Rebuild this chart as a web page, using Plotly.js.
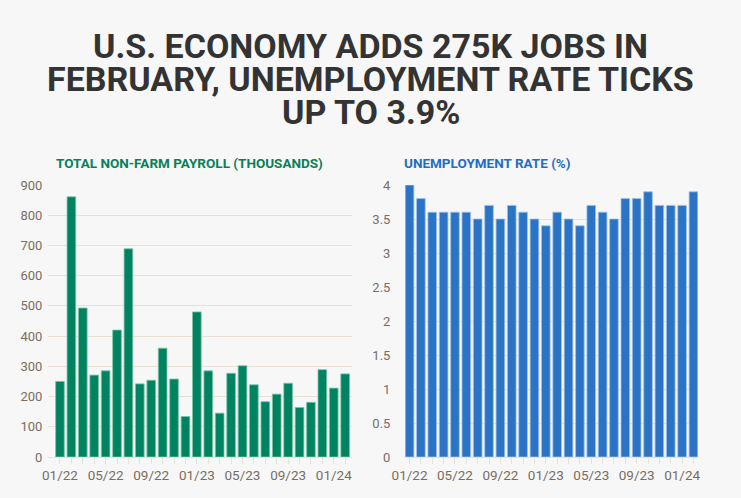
<!DOCTYPE html>
<html>
<head>
<meta charset="utf-8">
<script src="https://cdn.plot.ly/plotly-3.0.1.min.js"></script>
<style>
  html, body { margin: 0; padding: 0; background: #f7f7f7; }
  #chart { width: 741px; height: 498px; }
</style>
</head>
<body>
<div id="chart"></div>
<script>
// months shown on both panels, 01/22 .. 02/24
const months = [
    '01/22', '02/22', '03/22', '04/22', '05/22', '06/22', '07/22', '08/22', '09/22', '10/22', '11/22', '12/22',
    '01/23', '02/23', '03/23', '04/23', '05/23', '06/23', '07/23', '08/23', '09/23', '10/23', '11/23', '12/23',
    '01/24', '02/24'
];

// total non-farm payroll change, thousands
const payrolls = [
    250, 861, 493, 271, 285, 420, 689, 242, 254, 360, 258, 134,
    480, 285, 145, 277, 302, 239, 183, 208, 244, 164, 181, 289,
    228, 275
];

// unemployment rate, percent
const unemployment = [
    4.0, 3.8, 3.6, 3.6, 3.6, 3.6, 3.5, 3.7, 3.5, 3.7, 3.6, 3.5,
    3.4, 3.6, 3.5, 3.4, 3.7, 3.6, 3.5, 3.8, 3.8, 3.9, 3.7, 3.7,
    3.7, 3.9
];

const labeledMonths = ['01/22', '05/22', '09/22', '01/23', '05/23', '09/23', '01/24'];
const tickText = months.map(m => labeledMonths.includes(m) ? m : '');

const W = 741, H = 498;
const font = 'Roboto, "Liberation Sans", Arial, sans-serif';
const tickColor = '#7a6d62';
const gridColor = '#e7e2d3';

let traces = [
    {
        x: months,
        y: payrolls,
        type: 'bar',
        xaxis: 'x',
        yaxis: 'y',
        marker: {color: '#008361', line: {color: '#7cc3a6', width: 0.8}},
        hoverinfo: 'x+y'
    },
    {
        x: months,
        y: unemployment,
        type: 'bar',
        xaxis: 'x2',
        yaxis: 'y2',
        marker: {color: '#2b73c4', line: {color: '#9cc0e8', width: 0.8}},
        hoverinfo: 'x+y'
    }
];

function xAxis(domain, range) {
    return {
        domain: domain,
        type: 'category',
        range: range,
        tickvals: months,
        ticktext: tickText,
        ticks: 'outside',
        ticklen: 6,
        tickcolor: gridColor,
        tickwidth: 1,
        showgrid: false,
        showline: true,
        linecolor: gridColor,
        zeroline: false,
        tickfont: {family: font, size: 13.5, color: tickColor},
        fixedrange: true
    };
}

// invisible ticks are used only to push the labels away from the plot
function yAxis(domain, range, dtick, anchor, gap) {
    return {
        domain: domain,
        range: range,
        dtick: dtick,
        anchor: anchor,
        showgrid: true,
        gridcolor: gridColor,
        gridwidth: 1,
        zeroline: false,
        showline: false,
        ticks: 'outside',
        ticklen: gap,
        tickcolor: 'rgba(0,0,0,0)',
        tickfont: {family: font, size: 13, color: tickColor},
        fixedrange: true
    };
}

const yDomain = [(H - 457) / H, (H - 185) / H];

let layout = {
    width: W,
    height: H,
    margin: {l: 0, r: 0, t: 0, b: 0},
    paper_bgcolor: '#f7f7f7',
    plot_bgcolor: '#f7f7f7',
    showlegend: false,
    bargap: 0.24,
    xaxis: xAxis([48 / W, 352 / W], [-1.05, 25.6]),
    yaxis: yAxis(yDomain, [0, 900], 100, 'x', 2),
    xaxis2: Object.assign(xAxis([405 / W, 698 / W], [-0.4, 25.4]), {anchor: 'y2'}),
    yaxis2: yAxis(yDomain, [0, 4], 0.5, 'x2', 11),
    annotations: [
        // three title lines placed one by one for the tight leading
        {text: '<b>U.S. ECONOMY ADDS 275K JOBS IN</b>', y: 1 - 46 / H},
        {text: '<b>FEBRUARY, UNEMPLOYMENT RATE TICKS</b>', y: 1 - 79 / H},
        {text: '<b>UP TO 3.9%</b>', y: 1 - 112 / H}
    ].map(a => Object.assign({
        xref: 'paper', yref: 'paper', x: 371 / W,
        xanchor: 'center', yanchor: 'middle', showarrow: false,
        font: {family: font, size: 34, color: '#333333'}
    }, a)).concat([
        {
            text: '<b>TOTAL NON-FARM PAYROLL (THOUSANDS)</b>',
            xref: 'paper', yref: 'paper', x: 54 / W, y: 1 - 163 / H,
            xanchor: 'left', yanchor: 'middle', showarrow: false,
            font: {family: font, size: 13.5, color: '#0a7f57'}
        },
        {
            text: '<b>UNEMPLOYMENT RATE (%)</b>',
            xref: 'paper', yref: 'paper', x: 402 / W, y: 1 - 163 / H,
            xanchor: 'left', yanchor: 'middle', showarrow: false,
            font: {family: font, size: 13.5, color: '#1f6dc4'}
        }
    ])
};

let config = {displayModeBar: false};

Plotly.newPlot('chart', traces, layout, config);
</script>
</body>
</html>
